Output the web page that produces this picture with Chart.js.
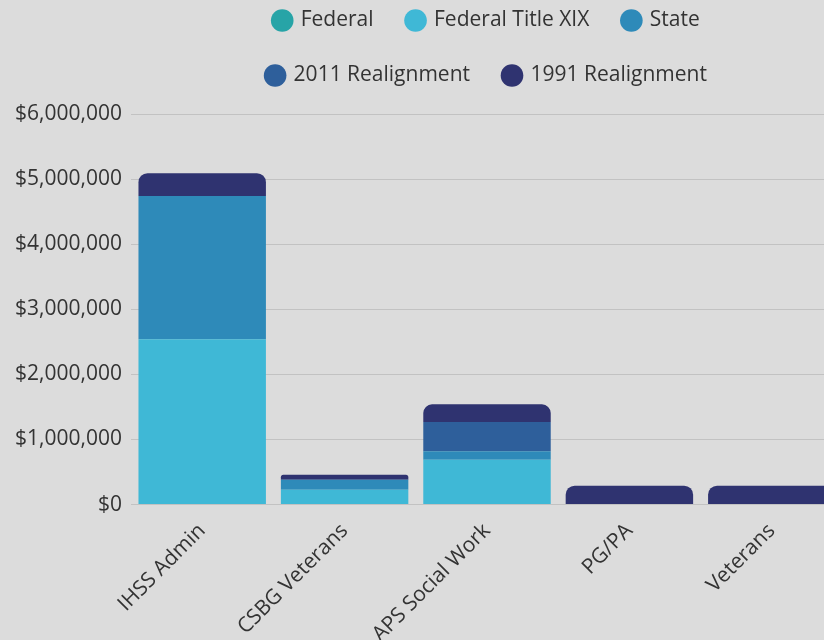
<!DOCTYPE html>
<html>
<head>
<meta charset="utf-8">
<title>Funding by Program</title>
<script src="https://cdn.jsdelivr.net/npm/chart.js@4.4.1/dist/chart.umd.min.js"></script>
<style>
    html, body {
        margin: 0;
        padding: 0;
        background: #dcdcdc;
        overflow: hidden;
    }
    .chart-container {
        position: absolute;
        left: 0;
        top: -24px;
        width: 843px;
        height: 677px;
    }
</style>
</head>
<body>
<div class="chart-container">
    <canvas id="fundingChart"></canvas>
</div>
<script>
// Programs along the x axis
const categories = ['IHSS Admin', 'CSBG Veterans', 'APS Social Work', 'PG/PA', 'Veterans'];

// Funding sources (dollars), stacked bottom to top
const federal = [0, 0, 0, 0, 0];
const federalTitleXIX = [2540000, 227000, 690000, 0, 0];
const state = [2200000, 154000, 130000, 0, 0];
const realignment2011 = [0, 0, 450000, 0, 0];
const realignment1991 = [350000, 77000, 270000, 290000, 290000];

// Y axis
const yMax = 6000000;
const yStep = 1000000;

const formatMoney = value => '$' + Number(value).toLocaleString('en-US');

// Push the plot down a bit below the legend and force two legend rows
const legendSpacing = {
    id: 'legendSpacing',
    beforeInit(chart) {
        const originalFit = chart.legend.fit;
        chart.legend.fit = function fit() {
            this.maxWidth = Math.min(this.maxWidth, 660);
            originalFit.bind(chart.legend)();
            this.height += 18;
        };
    }
};

function initializeChart() {
    Chart.defaults.font.family = "'Open Sans', sans-serif";
    Chart.defaults.font.size = 21;
    Chart.defaults.color = '#333333';

    new Chart(document.getElementById('fundingChart'), {
        type: 'bar',
        data: {
            labels: categories,
            datasets: [
                { label: 'Federal', data: federal, backgroundColor: '#27a4a7' },
                { label: 'Federal Title XIX', data: federalTitleXIX, backgroundColor: '#3fb8d6' },
                { label: 'State', data: state, backgroundColor: '#2e8ab9' },
                { label: '2011 Realignment', data: realignment2011, backgroundColor: '#2e5f9b' },
                {
                    label: '1991 Realignment',
                    data: realignment1991,
                    backgroundColor: '#2f3370',
                    borderRadius: { topLeft: 9, topRight: 9, bottomLeft: 0, bottomRight: 0 }
                }
            ]
        },
        options: {
            responsive: true,
            maintainAspectRatio: false,
            animation: false,
            categoryPercentage: 1,
            barPercentage: 0.895,
            plugins: {
                legend: {
                    position: 'top',
                    fullSize: false,
                    labels: {
                        usePointStyle: true,
                        pointStyle: 'circle',
                        boxWidth: 16,
                        boxHeight: 16,
                        padding: 34,
                        font: { size: 21 }
                    }
                },
                tooltip: {
                    callbacks: {
                        label: ctx => `${ctx.dataset.label}: ${formatMoney(ctx.parsed.y)}`
                    }
                }
            },
            scales: {
                x: {
                    stacked: true,
                    grid: { display: false },
                    border: { display: false },
                    ticks: {
                        maxRotation: 45,
                        minRotation: 45,
                        padding: 6,
                        font: { size: 21 }
                    }
                },
                y: {
                    stacked: true,
                    min: 0,
                    max: yMax,
                    border: { display: false },
                    grid: {
                        color: '#c2c2c2',
                        drawTicks: false
                    },
                    ticks: {
                        stepSize: yStep,
                        padding: 9,
                        font: { size: 21 },
                        callback: value => formatMoney(value)
                    },
                    afterFit: scale => { scale.width = 131; }
                }
            }
        },
        plugins: [legendSpacing]
    });
}

document.addEventListener('DOMContentLoaded', initializeChart);
</script>
</body>
</html>
